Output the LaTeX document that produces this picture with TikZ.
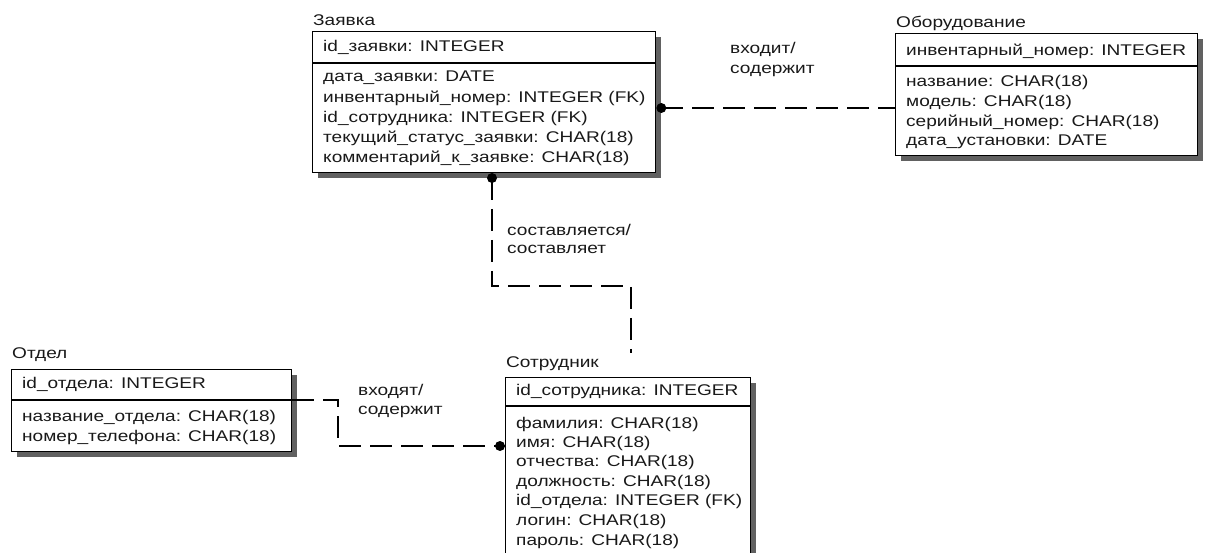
\documentclass[tikz,border=0pt]{standalone}
\usepackage{fontspec}
\setmainfont[FakeStretch=1.23]{Liberation Sans}
\usetikzlibrary{shadows,calc}

\tikzset{
  entity/.style={draw=black, line width=1.3pt, fill=white, anchor=north west,
    inner sep=0pt,
    general shadow={fill=black!62, shadow xshift=5pt, shadow yshift=-5pt}},
  divider/.style={line width=1.2pt},
  attr/.style={anchor=west, inner sep=0pt, font=\fontsize{15.5}{18}\selectfont, text=black!90},
  ename/.style={attr},
  rel/.style={line width=1.2pt, dash pattern=on 22pt off 9pt},
  reldot/.style={fill=black},
  rlabel/.style={attr}
}

\begin{document}
\begin{tikzpicture}[x=1pt, y=-1pt]
\useasboundingbox (0,0) rectangle (1208,553);
\clip (0,0) rectangle (1208,553);

% ---------- Заявка ----------
\node[ename] (zayT) at (313,20) {Заявка};
\node[entity, minimum width=343pt, minimum height=141pt] (zay) at (312,31) {};
\draw[divider] (zay.west |- 0,63) -- (zay.east |- 0,63);
\node[attr] (zay0) at (323,47) {id\_заявки: INTEGER};
\node[attr] (zay1) at (323,78) {дата\_заявки: DATE};
\node[attr] (zay2) at (323,98) {инвентарный\_номер: INTEGER (FK)};
\node[attr] (zay3) at (323,118) {id\_сотрудника: INTEGER (FK)};
\node[attr] (zay4) at (323,138) {текущий\_статус\_заявки: CHAR(18)};
\node[attr] (zay5) at (323,158) {комментарий\_к\_заявке: CHAR(18)};

% ---------- Оборудование ----------
\node[ename] (oboT) at (896,23) {Оборудование};
\node[entity, minimum width=302pt, minimum height=122pt] (obo) at (895,33) {};
\draw[divider] (obo.west |- 0,66) -- (obo.east |- 0,66);
\node[attr] (obo0) at (906,51) {инвентарный\_номер: INTEGER};
\node[attr] (obo1) at (906,82) {название: CHAR(18)};
\node[attr] (obo2) at (906,102) {модель: CHAR(18)};
\node[attr] (obo3) at (906,122) {серийный\_номер: CHAR(18)};
\node[attr] (obo4) at (906,142) {дата\_установки: DATE};

% ---------- Отдел ----------
\node[ename] (otdT) at (12,355) {Отдел};
\node[entity, minimum width=280pt, minimum height=82pt] (otd) at (11,369) {};
\draw[divider] (otd.west |- 0,400) -- (otd.east |- 0,400);
\node[attr] (otd0) at (22,384) {id\_отдела: INTEGER};
\node[attr] (otd1) at (22,417) {название\_отдела: CHAR(18)};
\node[attr] (otd2) at (22,437) {номер\_телефона: CHAR(18)};

% ---------- Сотрудник ----------
\node[ename] (sotT) at (506,364) {Сотрудник};
\node[entity, minimum width=245pt, minimum height=200pt] (sot) at (505,377) {};
\draw[divider] (sot.west |- 0,406) -- (sot.east |- 0,406);
\node[attr] (sot0) at (516,391) {id\_сотрудника: INTEGER};
\node[attr] (sot1) at (516,424) {фамилия: CHAR(18)};
\node[attr] (sot2) at (516,443) {имя: CHAR(18)};
\node[attr] (sot3) at (516,462) {отчества: CHAR(18)};
\node[attr] (sot4) at (516,482) {должность: CHAR(18)};
\node[attr] (sot5) at (516,501) {id\_отдела: INTEGER (FK)};
\node[attr] (sot6) at (516,521) {логин: CHAR(18)};
\node[attr] (sot7) at (516,541) {пароль: CHAR(18)};

% ---------- связи ----------
% Оборудование -> Заявка
\coordinate (d1) at ($(zay.east |- 0,108)+(5,0)$);
\draw[rel] (d1) -- (obo.west |- d1);
\fill[reldot] (d1) circle (5);
\node[rlabel] (l1a) at (730,49) {входит/};
\node[rlabel] (l1b) at (730,71) {содержит};

% Сотрудник -> Заявка
\coordinate (d2) at (492,178);
\coordinate (c2a) at (492,286);
\coordinate (c2b) at (631,286);
\coordinate (e2) at (631,353);
\draw[rel] (d2) -- (c2a) -- (c2b) -- (e2);
\fill[reldot] (d2) circle (5);
\node[rlabel] (l2a) at (507,230) {составляется/};
\node[rlabel] (l2b) at (507,249) {составляет};

% Отдел -> Сотрудник
\coordinate (s3) at (otd.east |- 0,400);
\coordinate (c3a) at (338,400);
\coordinate (c3b) at (338,446);
\coordinate (d3) at (500,446);
\draw[rel] (s3) -- (c3a) -- (c3b) -- (d3) -- (sot.west |- d3);
\fill[reldot] (d3) circle (5);
\node[rlabel] (l3a) at (358,391) {входят/};
\node[rlabel] (l3b) at (358,412) {содержит};

\end{tikzpicture}
\end{document}
